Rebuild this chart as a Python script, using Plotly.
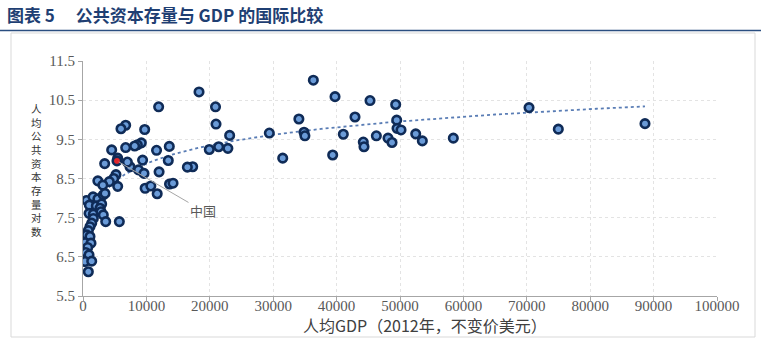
import numpy as np
import plotly.graph_objects as go

# ---- data ----
gdp_per_capita = [
    36330, 39750, 45270, 49320, 42900, 49480, 49530, 50160, 52480, 53520,
    41060, 46270, 48110, 48740, 44210, 44320, 39380, 58410, 70350, 74970,
    88640, 34050, 34860, 35000, 31500, 29390, 23130, 20980, 20900, 18300,
    11930, 19920, 21400, 22850, 17300, 16460, 13610, 11600, 9730, 6730,
    5990, 9200, 8570, 8150, 6730, 4520, 13450, 12000, 9400, 8750,
    9620, 7410, 7000, 5470, 3420, 5200, 4850, 4150, 2340, 3130,
    5470, 9800, 10700, 11700, 13650, 14200,
    580, 1580, 2350, 3200, 3470, 1000, 2100, 2940, 2680, 950,
    1630, 2840, 3200, 3580, 5730, 1630, 1370, 1100, 840, 580,
    1100, 320, 1260, 740, 430, 950, 320, 1370, 840,
]
log_capital = [
    11.01, 10.59, 10.49, 10.39, 10.07, 9.99, 9.78, 9.74, 9.64, 9.46,
    9.63, 9.59, 9.53, 9.42, 9.43, 9.31, 9.10, 9.53, 10.31, 9.76,
    9.90, 10.02, 9.68, 9.59, 9.02, 9.66, 9.60, 9.89, 10.33, 10.71,
    10.33, 9.24, 9.31, 9.27, 8.80, 8.79, 9.32, 9.22, 9.75, 9.86,
    9.77, 9.41, 9.36, 9.33, 9.29, 9.23, 8.96, 8.67, 8.97, 8.72,
    8.63, 8.80, 8.92, 9.02, 8.88, 8.60, 8.50, 8.42, 8.44, 8.33,
    8.30, 8.25, 8.31, 8.11, 8.36, 8.38,
    7.94, 8.03, 7.98, 8.08, 8.12, 7.82, 7.80, 7.85, 7.74, 7.61,
    7.59, 7.65, 7.57, 7.40, 7.40, 7.48, 7.36, 7.27, 7.17, 7.06,
    7.02, 6.86, 6.85, 6.74, 6.61, 6.55, 6.38, 6.39, 6.12,
]
china_gdp = [5360]
china_capital = [8.95]
china_label = "中国"

x_ticks = [0, 10000, 20000, 30000, 40000, 50000, 60000, 70000, 80000, 90000, 100000]
y_ticks = [5.5, 6.5, 7.5, 8.5, 9.5, 10.5, 11.5]
y_tick_text = ["5.5", "6.5", "7.5", "8.5", "9.5", "10.5", "11.5"]

title_text = "图表 5　 公共资本存量与 GDP 的国际比较"
x_title = "人均GDP（2012年，不变价美元）"
y_title = "人均公共资本存量对数"

# ---- logarithmic trend line fitted to the data ----
all_x = np.array(gdp_per_capita + china_gdp, dtype=float)
all_y = np.array(log_capital + china_capital, dtype=float)
b, a = np.polyfit(np.log(all_x), all_y, 1)
tx = np.linspace(all_x.min(), all_x.max(), 300)
ty = a + b * np.log(tx)

# ---- geometry helpers (pixels) ----
W, H = 761, 342
L, R, T, B = 83, 44, 61, 46
PW, PH = W - L - R, H - T - B


def px(xp):
    return (xp - L) / PW


def py(yp):
    return (H - B - yp) / PH


fig = go.Figure()

fig.add_trace(go.Scatter(
    x=tx, y=ty, mode="lines",
    line=dict(color="#5A7DB5", width=1.8, dash="dot"),
    hoverinfo="skip", showlegend=False,
))

fig.add_trace(go.Scatter(
    x=gdp_per_capita, y=log_capital, mode="markers",
    marker=dict(size=8.5, color="#6A9BD8", line=dict(color="#0F2B57", width=2.6)),
    showlegend=False,
))

fig.add_trace(go.Scatter(
    x=china_gdp, y=china_capital, mode="markers",
    marker=dict(size=8.5, color="#E3262B", line=dict(color="#0F2B57", width=2.6)),
    showlegend=False,
))

fig.add_annotation(
    x=china_gdp[0], y=china_capital[0], xref="x", yref="y",
    text=china_label, showarrow=True, arrowhead=0, arrowwidth=1,
    arrowcolor="#A6A6A6", ax=86, ay=50, standoff=2,
    font=dict(family="Noto Sans CJK SC", size=13, color="#595959"),
)

# vertical stacked y-axis title (one text block, one character per line)
fig.add_annotation(
    x=px(36), y=py(170), xref="paper", yref="paper",
    text="<br>".join(y_title), showarrow=False,
    xanchor="center", yanchor="middle", borderpad=0,
    font=dict(family="Noto Sans CJK SC", size=10.5, color="#333333"),
)

fig.add_annotation(
    x=px(425), y=py(325), xref="paper", yref="paper",
    text=x_title, showarrow=False, xanchor="center", yanchor="middle",
    borderpad=0,
    font=dict(family="Noto Sans CJK SC", size=16, color="#404040"),
)

fig.add_annotation(
    x=px(5), y=py(15), xref="paper", yref="paper",
    text="<b>" + title_text + "</b>", showarrow=False,
    xanchor="left", yanchor="middle",
    font=dict(family="Noto Sans CJK SC", size=17, color="#1F3F73"),
)

# title underline and outer frame
fig.add_shape(type="line", xref="paper", yref="paper",
              x0=px(0), x1=px(W), y0=py(30.5), y1=py(30.5),
              line=dict(color="#2A4E80", width=1.6))
fig.add_shape(type="rect", xref="paper", yref="paper",
              x0=px(11), x1=px(755), y0=py(337), y1=py(33),
              line=dict(color="#D9D9D9", width=1), layer="below")

axis_font = dict(family="Liberation Serif", size=15, color="#595959")

fig.update_xaxes(
    range=[0, 100000], tickvals=x_ticks, tickformat="d",
    showgrid=True, gridcolor="#E3E3E3", griddash="dot", gridwidth=1.2,
    showline=True, linecolor="#A6A6A6", linewidth=1,
    ticks="outside", ticklen=4, tickcolor="#A6A6A6",
    tickfont=axis_font, zeroline=False, ticklabelstandoff=-8,
)
fig.update_yaxes(
    range=[5.5, 11.5], tickvals=y_ticks, ticktext=y_tick_text,
    showgrid=True, gridcolor="#E3E3E3", griddash="dot", gridwidth=1.2,
    showline=True, linecolor="#A6A6A6", linewidth=1,
    ticks="outside", ticklen=4, tickcolor="#A6A6A6",
    tickfont=axis_font, zeroline=False,
)

fig.update_layout(
    width=W, height=H,
    margin=dict(l=L, r=R, t=T, b=B),
    paper_bgcolor="white", plot_bgcolor="white",
    showlegend=False,
)

fig.write_html("out.html")
